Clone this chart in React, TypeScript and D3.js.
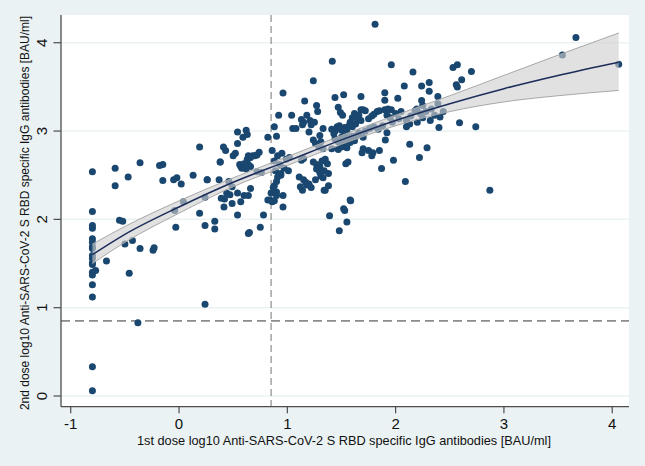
import React from 'react';
import * as d3 from 'd3';

// [1st dose, 2nd dose] log10 antibody levels
const floorGroup: [number, number][] = [
  [-0.8, 2.54], [-0.8, 2.09], [-0.8, 1.93], [-0.8, 1.90], [-0.8, 1.78], [-0.8, 1.74],
  [-0.8, 1.69], [-0.8, 1.67], [-0.8, 1.59], [-0.8, 1.56], [-0.8, 1.51], [-0.8, 1.49],
  [-0.8, 1.40], [-0.8, 1.37], [-0.8, 1.26], [-0.8, 1.12], [-0.8, 0.33], [-0.8, 0.06],
  [-0.77, 1.42], [-0.67, 1.53],
];

const lowGroup: [number, number][] = [
  [-0.59, 2.58], [-0.59, 2.38], [-0.47, 2.48], [-0.36, 2.64], [-0.18, 2.61], [-0.15, 2.62],
  [-0.15, 2.44], [-0.05, 2.45], [-0.02, 2.47], [0.02, 2.40], [0.13, 2.50], [0.26, 2.45],
  [0.37, 2.45], [0.38, 2.65], [0.04, 2.20], [-0.04, 2.10], [0.19, 2.07], [0.24, 1.93],
  [0.33, 1.98], [0.33, 1.89], [-0.03, 1.91], [-0.55, 1.99], [-0.52, 1.98], [-0.50, 1.72],
  [-0.43, 1.76], [-0.36, 1.67], [-0.24, 1.65], [-0.23, 1.68], [-0.46, 1.39], [0.24, 1.04],
  [-0.38, 0.83], [0.19, 2.82], [0.24, 2.25], [0.26, 2.45],
  [0.54, 2.05], [0.64, 1.84], [0.65, 1.85], [0.75, 1.91], [0.78, 2.05],
  [0.39, 2.24], [0.42, 2.23], [0.44, 2.30], [0.47, 2.28], [0.415, 2.14], [0.49, 2.18],
  [0.54, 2.30], [0.57, 2.20], [0.60, 2.27], [0.64, 2.27], [0.66, 2.35], [0.46, 2.43],
  [0.49, 2.37], [0.54, 2.99], [0.62, 3.01], [0.63, 2.96], [0.59, 2.93], [0.54, 2.86],
  [0.41, 2.82], [0.43, 2.78], [0.52, 2.75], [0.50, 2.72], [0.38, 2.65],
  [0.56, 2.62], [0.57, 2.60], [0.58, 2.58], [0.60, 2.63], [0.63, 2.68], [0.64, 2.72],
  [0.66, 2.70], [0.66, 2.60], [0.68, 2.72], [0.70, 2.72], [0.72, 2.73], [0.74, 2.76],
  [0.62, 2.57], [0.64, 2.62], [0.76, 2.53], [0.72, 2.54],
  [0.82, 2.93], [0.82, 2.22], [0.84, 2.22], [0.86, 2.20],
];

const midGroup: [number, number][] = [
  [0.90, 2.94], [0.88, 3.05], [0.92, 3.18], [0.96, 3.43], [1.04, 3.18], [1.16, 3.34],
  [1.24, 3.57], [1.415, 3.79], [1.27, 3.29], [1.28, 3.22], [1.18, 3.18], [1.21, 3.12],
  [1.25, 3.10], [1.13, 3.13], [1.15, 3.10], [1.22, 3.07], [1.14, 3.07], [1.05, 3.03],
  [1.08, 3.03], [1.20, 2.99], [1.33, 3.03], [1.30, 2.95], [1.44, 3.38], [1.47, 3.27],
  [1.49, 3.21], [1.51, 3.18], [1.52, 3.41],
  [1.41, 3.02], [1.44, 3.00], [1.46, 3.05], [1.48, 3.06], [1.50, 3.01], [1.53, 3.04],
  [1.55, 3.00], [1.57, 3.06], [1.43, 2.97],
  [1.44, 2.91], [1.47, 2.88], [1.50, 2.93], [1.52, 2.86], [1.55, 2.90], [1.58, 2.87],
  [1.60, 2.94], [1.62, 2.89], [1.64, 2.95], [1.53, 2.96], [1.57, 2.92],
  [1.24, 2.90], [1.26, 2.86], [1.29, 2.82], [1.31, 2.88], [1.33, 2.80],
  [1.41, 2.80], [1.47, 2.79], [1.50, 2.82], [1.55, 2.81],
  [0.86, 2.78], [0.88, 2.66], [0.91, 2.72], [0.93, 2.62], [0.95, 2.75], [0.97, 2.58],
  [0.99, 2.68], [1.01, 2.55], [1.02, 2.70], [0.89, 2.55], [0.94, 2.52],
  [1.13, 2.67], [1.15, 2.69],
  [1.24, 2.65], [1.27, 2.62], [1.30, 2.60], [1.32, 2.66], [1.35, 2.68], [1.37, 2.63],
  [1.34, 2.55], [1.38, 2.52], [1.30, 2.53], [1.27, 2.57], [1.31, 2.49], [1.33, 2.47],
  [1.54, 2.63], [1.56, 2.65],
  [1.11, 2.48], [1.15, 2.45], [1.17, 2.42], [1.18, 2.39], [1.12, 2.37], [1.14, 2.33],
  [1.20, 2.40], [1.22, 2.36], [1.26, 2.45], [1.34, 2.33], [1.38, 2.38], [1.35, 2.33],
  [0.91, 2.48], [0.94, 2.50], [0.90, 2.43], [0.88, 2.38], [0.90, 2.31], [0.85, 2.30],
  [0.87, 2.36], [0.88, 2.21], [0.96, 2.14], [0.96, 2.27], [0.90, 2.27],
  [1.58, 2.22], [1.52, 2.12], [1.39, 2.04], [1.48, 1.87], [1.55, 1.97], [1.53, 2.10],
  [1.585, 2.21],
];

const highGroup: [number, number][] = [
  [1.81, 4.21], [1.96, 3.75], [2.16, 3.67], [2.53, 3.72], [2.57, 3.75], [2.70, 3.675],
  [2.61, 3.58], [2.56, 3.525], [2.57, 3.50], [2.08, 3.51], [2.24, 3.51], [2.31, 3.55],
  [2.31, 3.45], [1.90, 3.435], [1.90, 3.35], [2.02, 3.37], [2.24, 3.345], [2.25, 3.29],
  [2.195, 3.25], [2.39, 3.39], [2.39, 3.31], [1.68, 3.39],
  [1.58, 3.10], [1.60, 3.15], [1.62, 3.20], [1.63, 3.08], [1.65, 3.13], [1.66, 3.18],
  [1.68, 3.24], [1.70, 3.24], [1.72, 3.23], [1.75, 3.14], [1.78, 3.17], [1.80, 3.19],
  [1.83, 3.22], [1.85, 3.23], [1.90, 3.24], [1.93, 3.25], [1.96, 3.24], [1.97, 3.10],
  [1.60, 3.05], [1.68, 3.12],
  [1.72, 3.00], [1.76, 3.03], [1.80, 3.05], [1.84, 3.02], [1.88, 3.06], [1.92, 2.98],
  [1.66, 2.98], [1.70, 2.93],
  [1.92, 3.18], [1.95, 3.15], [2.00, 3.20], [2.03, 3.14], [2.05, 3.22], [2.10, 3.12],
  [2.14, 3.17], [2.18, 3.23], [2.23, 3.20], [2.28, 3.22], [2.33, 3.25], [2.36, 3.18],
  [2.41, 3.16], [2.44, 3.22],
  [2.10, 3.05], [2.13, 3.08], [2.20, 3.10], [2.25, 3.15], [2.32, 3.12], [2.40, 3.04],
  [2.59, 3.095], [2.74, 3.05],
  [1.905, 2.90], [2.13, 2.85], [2.29, 2.81], [2.22, 2.70], [1.98, 2.67], [1.87, 2.575],
  [2.09, 2.43], [2.87, 2.33],
  [1.69, 2.755], [1.78, 2.72], [1.79, 2.755], [1.70, 2.80], [1.75, 2.78], [1.85, 2.78],
  [3.665, 4.06], [3.54, 3.86], [4.06, 3.755],
];

// fractional polynomial fit with 95% CI
const fitX = [-0.8, -0.5, 0, 0.5, 1, 1.5, 2, 2.5, 3, 3.5, 4.06];
const fitY = [1.60, 1.83, 2.14, 2.42, 2.66, 2.90, 3.12, 3.31, 3.48, 3.63, 3.78];
const fitLo = [1.50, 1.74, 2.07, 2.37, 2.61, 2.85, 3.06, 3.22, 3.33, 3.40, 3.46];
const fitHi = [1.72, 1.92, 2.21, 2.47, 2.71, 2.95, 3.18, 3.40, 3.63, 3.86, 4.11];

const xTicks = [-1, 0, 1, 2, 3, 4];
const yTicks = [0, 1, 2, 3, 4];
const cutoff = 0.85;

const xTitle = '1st dose log10 Anti-SARS-CoV-2 S RBD specific IgG antibodies [BAU/ml]';
const yTitle = '2nd dose log10 Anti-SARS-CoV-2 S RBD specific IgG antibodies [BAU/ml]';

const W = 645;
const H = 466;
const plot = { left: 61, right: 629, top: 15, bottom: 406.7 };
const font = '"Liberation Sans", Arial, Helvetica, sans-serif';

export default function App() {
  const x = d3.scaleLinear().domain([-1.09, 4.155]).range([plot.left, plot.right]);
  const y = d3.scaleLinear().domain([-0.121, 4.314]).range([plot.bottom, plot.top]);

  const points = [...floorGroup, ...lowGroup, ...midGroup, ...highGroup];

  const band = d3.area<number>()
    .x((d, i) => x(fitX[i]))
    .y0((d, i) => y(fitLo[i]))
    .y1((d, i) => y(fitHi[i]))
    .curve(d3.curveMonotoneX)(fitX);
  const bandEdgeLo = d3.line<number>()
    .x((d, i) => x(fitX[i]))
    .y((d, i) => y(fitLo[i]))
    .curve(d3.curveMonotoneX)(fitX);
  const bandEdgeHi = d3.line<number>()
    .x((d, i) => x(fitX[i]))
    .y((d, i) => y(fitHi[i]))
    .curve(d3.curveMonotoneX)(fitX);
  const fitLine = d3.line<number>()
    .x((d, i) => x(fitX[i]))
    .y((d, i) => y(fitY[i]))
    .curve(d3.curveMonotoneX)(fitX);

  return (
    <svg width={W} height={H} style={{ position: 'absolute', left: 0, top: 0 }} fontFamily={font}>
      <rect width={W} height={H} fill="#eaf2f3" />
      <rect x={plot.left} y={plot.top} width={plot.right - plot.left} height={plot.bottom - plot.top} fill="#ffffff" />

      {yTicks.map(t => (
        <line key={'g' + t} x1={plot.left} x2={plot.right} y1={y(t)} y2={y(t)} stroke="#eaf2f3" strokeWidth={1.5} />
      ))}

      <line x1={x(cutoff)} x2={x(cutoff)} y1={plot.top} y2={plot.bottom} stroke="#8c8c8c" strokeWidth={1.2} strokeDasharray="7,4" />
      <line x1={plot.left} x2={plot.right} y1={y(cutoff)} y2={y(cutoff)} stroke="#8c8c8c" strokeWidth={1.8} strokeDasharray="9,5" />

      {points.map((p, i) => (
        <circle key={i} cx={x(p[0])} cy={y(p[1])} r={3.5} fill="#1a476f" />
      ))}

      <path d={band || ''} fill="#cfcfcf" fillOpacity={0.62} />
      <path d={bandEdgeLo || ''} fill="none" stroke="#a8a8a8" strokeWidth={1} />
      <path d={bandEdgeHi || ''} fill="none" stroke="#a8a8a8" strokeWidth={1} />
      <path d={fitLine || ''} fill="none" stroke="#1c2d5a" strokeWidth={1.5} />

      <line x1={plot.left} x2={plot.left} y1={plot.top} y2={plot.bottom} stroke="#4d4d4d" strokeWidth={1.3} />
      <line x1={plot.left} x2={plot.right} y1={plot.bottom} y2={plot.bottom} stroke="#4d4d4d" strokeWidth={1.3} />

      {yTicks.map(t => (
        <g key={'y' + t}>
          <line x1={plot.left - 7.5} x2={plot.left} y1={y(t)} y2={y(t)} stroke="#4d4d4d" strokeWidth={1.2} />
          <text transform={`translate(47,${y(t)}) rotate(-90)`} textAnchor="middle" fontSize={15} fill="#111">{t}</text>
        </g>
      ))}
      {xTicks.map(t => (
        <g key={'x' + t}>
          <line x1={x(t)} x2={x(t)} y1={plot.bottom} y2={plot.bottom + 6.5} stroke="#4d4d4d" strokeWidth={1.2} />
          <text x={x(t)} y={428.5} textAnchor="middle" fontSize={15} fill="#111">{t}</text>
        </g>
      ))}

      <text x={344} y={445} textAnchor="middle" fontSize={13} fill="#111" textLength={414} lengthAdjust="spacingAndGlyphs">{xTitle}</text>
      <text transform={`translate(29,213) rotate(-90)`} textAnchor="middle" fontSize={12} fill="#111">{yTitle}</text>
    </svg>
  );
}
